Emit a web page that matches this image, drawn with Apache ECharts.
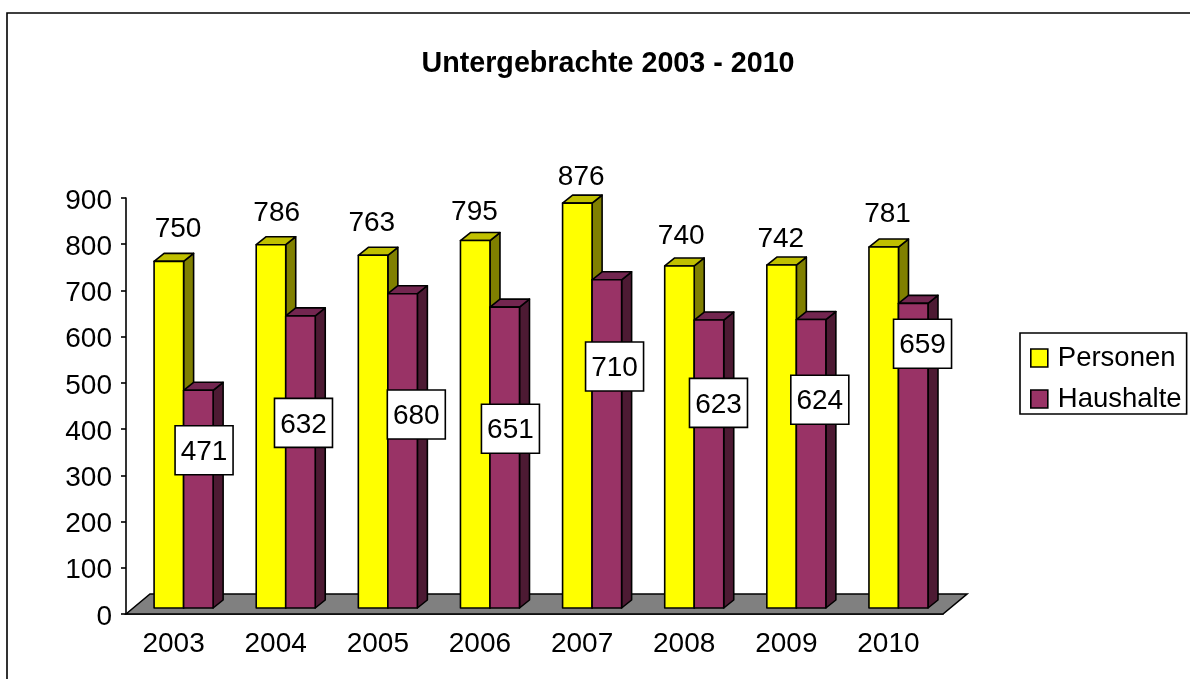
<!DOCTYPE html>
<html>
<head>
<meta charset="utf-8">
<title>Untergebrachte 2003 - 2010</title>
<style>
  html, body { margin: 0; padding: 0; background: #fff; }
  #main { width: 1190px; height: 679px; }
</style>
</head>
<body>
<div id="main"></div>
<script src="https://cdn.jsdelivr.net/npm/echarts@6/dist/echarts.min.js"></script>
<script>
const years = ['2003', '2004', '2005', '2006', '2007', '2008', '2009', '2010'];
const personen = [750, 786, 763, 795, 876, 740, 742, 781];
const haushalte = [471, 632, 680, 651, 710, 623, 624, 659];
const valueTicks = { min: 0, max: 900, interval: 100 };

// the labels in the original were dragged by hand, so each has its own offset
// [dx from category centre, dy from bar top]
const personenLabelShift = [[1, -34], [-2.5, -33], [-9.5, -33.6], [-9, -30.6], [-4.4, -27.4], [-6.5, -31.3], [-9, -27.7], [-4.4, -35]];
const haushalteLabelShift = [[27, 60], [24.3, 107], [35, 120.8], [27, 121.6], [29, 86.7], [30.8, 82.8], [30, 80.2], [30.6, 40.3]];

const fontName = '"Liberation Sans", Arial, sans-serif';
const fontSize = 28;
const lineColor = '#000';
const lineW = 1.6;
const depthX = 10;
const depthY = 8;
const floorLift = 6;
const floorDepthX = 24;
const floorDepthY = 20;

function renderFloor(params, api) {
  const cs = params.coordSys;
  const y0 = cs.y + cs.height;
  return {
    type: 'polygon',
    shape: {
      points: [
        [cs.x, y0],
        [cs.x + floorDepthX, y0 - floorDepthY],
        [cs.x + cs.width + floorDepthX, y0 - floorDepthY],
        [cs.x + cs.width, y0]
      ]
    },
    style: { fill: '#808080', stroke: lineColor, lineWidth: lineW }
  };
}

function makeBarRenderer(colors, leftRatio, labelShift, boxed) {
  return function (params, api) {
    const band = api.size([1, 0])[0];
    const w = band * 0.289;
    const center = api.coord([api.value(0), 0]);
    const x0 = center[0] + band * leftRatio;
    const x1 = x0 + w;
    const yBase = center[1] - floorLift;
    const yTop = api.coord([api.value(0), api.value(1)])[1] - floorLift;
    const border = { stroke: lineColor, lineWidth: lineW, lineJoin: 'round' };
    const shift = labelShift[params.dataIndex];
    const lx = center[0] + shift[0];
    const ly = yTop + shift[1];
    const children = [
      {
        type: 'polygon',
        shape: { points: [[x1, yBase], [x1 + depthX, yBase - depthY], [x1 + depthX, yTop - depthY], [x1, yTop]] },
        style: Object.assign({ fill: colors.side }, border)
      },
      {
        type: 'polygon',
        shape: { points: [[x0, yTop], [x0 + depthX, yTop - depthY], [x1 + depthX, yTop - depthY], [x1, yTop]] },
        style: Object.assign({ fill: colors.top }, border)
      },
      {
        type: 'rect',
        shape: { x: x0, y: yTop, width: w, height: yBase - yTop },
        style: Object.assign({ fill: colors.front }, border)
      }
    ];
    if (boxed) {
      children.push({
        type: 'rect',
        shape: { x: lx - 29, y: ly - 24.5, width: 58, height: 49 },
        style: { fill: '#fff', stroke: lineColor, lineWidth: lineW }
      });
    }
    children.push({
      type: 'text',
      style: {
        text: String(api.value(1)),
        x: lx,
        y: ly + 2,
        align: 'center',
        verticalAlign: 'middle',
        fill: '#000',
        font: fontSize + 'px ' + fontName
      }
    });
    return { type: 'group', children: children };
  };
}

const chart = echarts.init(document.getElementById('main'), null, { renderer: 'canvas' });

chart.setOption({
  animation: false,
  backgroundColor: '#fff',
  textStyle: { fontFamily: fontName },
  title: {
    text: 'Untergebrachte 2003 - 2010',
    left: 603,
    top: 45,
    textAlign: 'center',
    textStyle: { fontFamily: fontName, fontSize: 28.7, fontWeight: 'bold', color: '#000' }
  },
  legend: {
    orient: 'vertical',
    left: 1020,
    top: 333,
    padding: [11, 5, 1, 10],
    itemWidth: 17,
    itemHeight: 18,
    itemGap: 13,
    borderColor: lineColor,
    borderWidth: lineW,
    backgroundColor: '#fff',
    textStyle: { fontFamily: fontName, fontSize: 27.5, color: '#000', padding: [0, 0, 0, 5] },
    data: [
      { name: 'Personen', icon: 'rect', itemStyle: { color: '#ffff00', borderColor: lineColor, borderWidth: lineW } },
      { name: 'Haushalte', icon: 'rect', itemStyle: { color: '#993366', borderColor: lineColor, borderWidth: lineW } }
    ]
  },
  grid: { left: 126, right: 247, top: 198, bottom: 65 },
  xAxis: {
    type: 'category',
    data: years,
    axisTick: { show: false },
    axisLine: { lineStyle: { color: lineColor, width: lineW } },
    axisLabel: { fontFamily: fontName, fontSize: fontSize, color: '#000', margin: 16, padding: [0, 7, 0, 0] }
  },
  yAxis: {
    type: 'value',
    min: valueTicks.min,
    max: valueTicks.max,
    interval: valueTicks.interval,
    splitLine: { show: false },
    axisLine: { show: true, lineStyle: { color: lineColor, width: lineW } },
    axisTick: { show: true, length: 5, lineStyle: { color: lineColor, width: lineW } },
    axisLabel: { fontFamily: fontName, fontSize: fontSize, color: '#000', margin: 14, verticalAlign: 'top', lineHeight: 6 }
  },
  series: [
    {
      type: 'custom',
      name: 'floor',
      renderItem: renderFloor,
      data: [[0, 0]],
      silent: true,
      z: 1
    },
    {
      type: 'custom',
      name: 'Personen',
      renderItem: makeBarRenderer({ front: '#ffff00', top: '#c0c000', side: '#808000' }, -0.225, personenLabelShift, false),
      encode: { x: 0, y: 1 },
      data: years.map((y, i) => [i, personen[i]]),
      z: 2
    },
    {
      type: 'custom',
      name: 'Haushalte',
      renderItem: makeBarRenderer({ front: '#993366', top: '#732650', side: '#4d1a33' }, 0.064, haushalteLabelShift, true),
      encode: { x: 0, y: 1 },
      data: years.map((y, i) => [i, haushalte[i]]),
      z: 3
    }
  ],
  graphic: [
    {
      // chart area border, the right and bottom sides are cut off in the original
      type: 'polyline',
      shape: { points: [[7, 690], [7, 13], [1200, 13]] },
      style: { fill: 'none', stroke: lineColor, lineWidth: 1.6 },
      silent: true
    }
  ]
});
</script>
</body>
</html>
